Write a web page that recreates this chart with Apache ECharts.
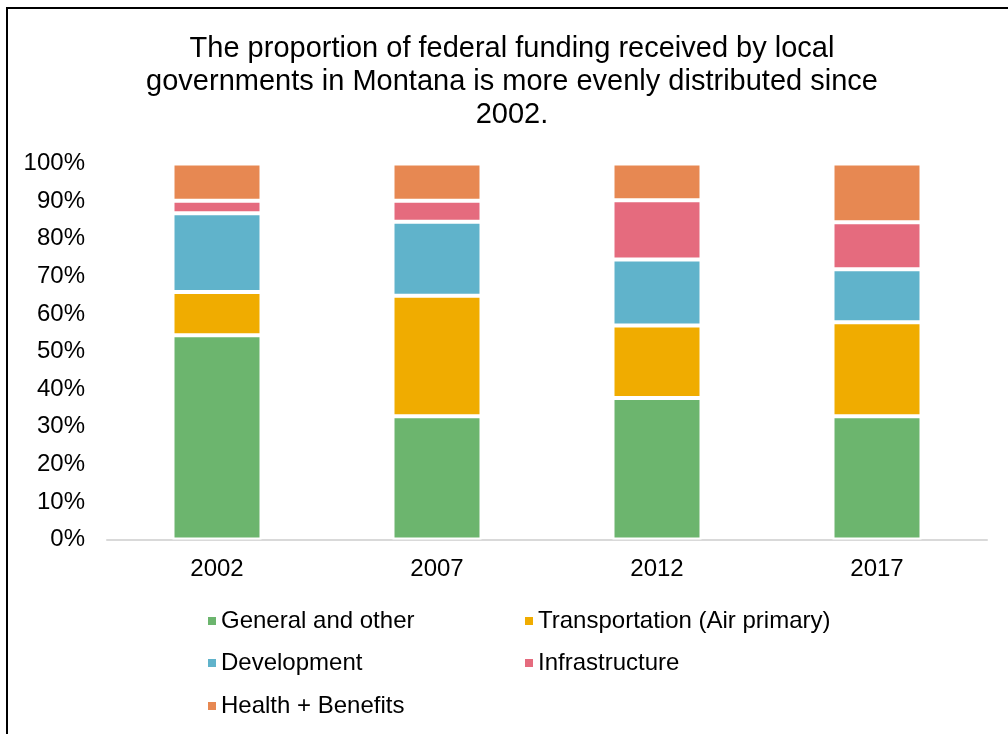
<!DOCTYPE html>
<html>
<head>
<meta charset="utf-8">
<script src="https://cdn.jsdelivr.net/npm/echarts@6/dist/echarts.min.js"></script>
<style>
html,body{margin:0;padding:0;background:#fff;}
#chart{width:1008px;height:734px;}
</style>
</head>
<body>
<div id="chart"></div>
<script>
const titleText = 'The proportion of federal funding received by local\ngovernments in Montana is more evenly distributed since\n2002.';
const categories = ['2002', '2007', '2012', '2017'];
const seriesNames = ['General and other', 'Transportation (Air primary)', 'Development', 'Infrastructure', 'Health + Benefits'];
const generalOther = [54.3, 32.8, 37.6, 32.8];
const transportation = [11.5, 32.0, 19.3, 25.0];
const development = [21.0, 19.7, 17.6, 14.1];
const infrastructure = [3.3, 5.6, 15.7, 12.5];
const healthBenefits = [9.9, 9.9, 9.8, 15.6];
const colors = ['#6CB56E', '#F0AC00', '#60B3CB', '#E56B7E', '#E78852'];

const values = [generalOther, transportation, development, infrastructure, healthBenefits];
const font = '"Liberation Sans", Arial, sans-serif';

const legendPos = [
  {left: 201, top: 604},
  {left: 518, top: 604},
  {left: 201, top: 646},
  {left: 518, top: 646},
  {left: 201, top: 689}
];

const chart = echarts.init(document.getElementById('chart'));
chart.setOption({
  animation: false,
  color: colors,
  graphic: [
    {type: 'rect', shape: {x: 7, y: 8, width: 1020, height: 750}, style: {fill: 'none', stroke: '#000', lineWidth: 2}, silent: true},
    {type: 'text', x: 512, y: 32, style: {text: titleText, font: '29px ' + font, fill: '#000', textAlign: 'center', lineHeight: 33}}
  ],
  legend: seriesNames.map((n, i) => ({
    data: [n],
    left: legendPos[i].left,
    top: legendPos[i].top,
    icon: 'rect',
    itemWidth: 10,
    itemHeight: 10,
    itemGap: 4,
    selectedMode: false,
    textStyle: {fontSize: 24, fontFamily: font, color: '#000', padding: [0, 0, 0, -1]}
  })),
  grid: {left: 107, right: 21, top: 163.5, bottom: 194.5, containLabel: false},
  xAxis: {
    type: 'category',
    data: categories,
    axisLine: {lineStyle: {color: '#d9d9d9', width: 2}},
    axisTick: {show: false},
    axisLabel: {fontSize: 24, fontFamily: font, color: '#000', margin: 18}
  },
  yAxis: {
    type: 'value',
    min: 0,
    max: 100,
    interval: 10,
    axisLine: {show: false},
    axisTick: {show: false},
    splitLine: {show: false},
    axisLabel: {fontSize: 24, fontFamily: font, color: '#000', margin: 22, formatter: '{value}%'}
  },
  series: seriesNames.map((n, i) => ({
    name: n,
    type: 'bar',
    stack: 'total',
    barWidth: 89,
    data: values[i],
    itemStyle: {color: colors[i], borderColor: '#fff', borderWidth: 2}
  }))
});
</script>
</body>
</html>
